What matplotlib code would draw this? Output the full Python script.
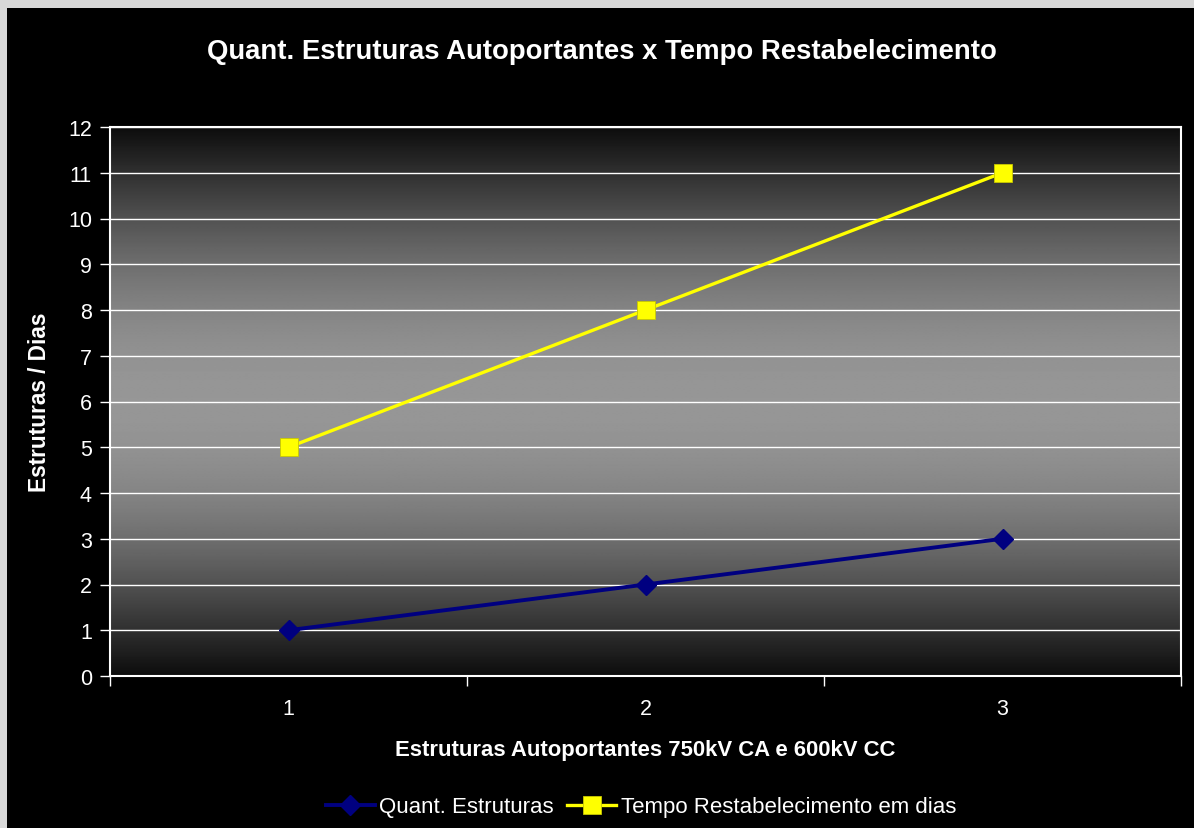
import numpy as np
import matplotlib
matplotlib.use("Agg")
import matplotlib.pyplot as plt
from matplotlib.patches import Rectangle

plt.rcParams['font.family'] = ['Liberation Sans', 'DejaVu Sans']

# dados
categorias = [1, 2, 3]
quant_estruturas = [1, 2, 3]
tempo_dias = [5, 8, 11]
y_ticks = list(range(0, 13))

titulo = "Quant. Estruturas Autoportantes x Tempo Restabelecimento"
label_x = "Estruturas Autoportantes 750kV CA e 600kV CC"
label_y = "Estruturas / Dias"

W, H = 1194, 829
fig = plt.figure(figsize=(W / 100, H / 100), dpi=100)
fig.patch.set_facecolor("#d8d8d8")
# fundo preto do grafico
fig.patches.append(Rectangle((7 / W, 0), 1 - 7 / W, 1 - 9 / H,
                             transform=fig.transFigure, facecolor="black",
                             edgecolor="none", zorder=-5))

left, right, top, bottom = 110, 1181, 128, 677
ax = fig.add_axes([left / W, 1 - bottom / H, (right - left) / W, (bottom - top) / H])
ax.set_facecolor("none")

# gradiente vertical: escuro -> cinza -> escuro
t = np.linspace(0, 1, 400)
g = 0.05 + 0.54 * np.sin(np.pi * t)
grad = np.repeat(g[:, None], 2, axis=1)
ax.imshow(grad, extent=[0.5, 3.5, 0, 12], aspect="auto", origin="upper",
          cmap="gray", vmin=0, vmax=1, zorder=0, interpolation="bilinear")

ax.set_xlim(0.5, 3.5)
ax.set_ylim(0, 12)

for yv in y_ticks[1:]:
    ax.axhline(yv, color="white", lw=1.0, zorder=1)

ax.plot(categorias, quant_estruturas, color="#000080", lw=2.8, marker="D",
        markersize=10, markerfacecolor="#000080", markeredgecolor="#000080",
        zorder=3, label="Quant. Estruturas")
ax.plot(categorias, tempo_dias, color="#ffff00", lw=2.4, marker="s",
        markersize=12.5, markerfacecolor="#ffff00", markeredgecolor="#c8c800",
        markeredgewidth=0.6, zorder=3, label="Tempo Restabelecimento em dias")

for sp in ax.spines.values():
    sp.set_color("white")
    sp.set_linewidth(1.5)

ax.set_yticks(y_ticks)
ax.set_xticks(categorias)
ax.set_xticks([0.5, 1.5, 2.5, 3.5], minor=True)
ax.tick_params(axis="y", colors="white", labelsize=15.5, length=7, width=1, pad=6)
ax.tick_params(axis="x", which="major", colors="white", labelsize=15.5, length=0, pad=16)
ax.tick_params(axis="x", which="minor", colors="white", length=7, width=1)

ax.set_xlabel(label_x, color="white", fontsize=15.9, fontweight="bold", labelpad=14)
ax.set_ylabel(label_y, color="white", fontsize=16.3, fontweight="bold", labelpad=12)

fig.text(602 / W, 1 - 52 / H, titulo, color="white", fontsize=19.8,
         fontweight="bold", ha="center", va="center")

leg = fig.legend(loc="center", bbox_to_anchor=(641 / W, 1 - 808 / H), ncol=2,
                 frameon=False, fontsize=16, handlelength=2.2, columnspacing=0.6,
                 handletextpad=0.2)
for txt in leg.get_texts():
    txt.set_color("white")

fig.savefig("out.png", dpi=100, facecolor=fig.get_facecolor())
